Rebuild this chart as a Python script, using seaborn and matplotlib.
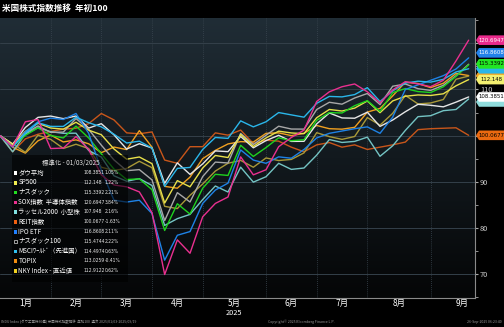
import numpy as np
import pandas as pd
import matplotlib
matplotlib.use("Agg")
import matplotlib.pyplot as plt
import matplotlib.transforms as mtransforms
from matplotlib.colors import LinearSegmentedColormap
import seaborn as sns

# ---------------- data ----------------
dates = pd.date_range("2025-01-03", periods=38, freq="7D")

names = ["ダウ平均", "SP500", "ナスダック", "SOX指数  半導体指数", "ラッセル2000  小型株",
         "REIT指数", "IPO ETF", "ナスダック100", "MSCIﾜｰﾙﾄﾞ（先進国）", "TOPIX", "NKY Index - 直近値"]

dow = [100, 98.14, 101.77, 103.96, 104.24, 103.68, 104.25, 101.63, 102.59, 100.16, 97.09, 98.25, 97.31,
       89.66, 94.10, 91.60, 93.87, 96.69, 96.53, 99.82, 97.36, 98.92, 100.07, 98.75, 98.77, 102.54, 104.91,
       103.84, 103.77, 105.08, 102.00, 103.38, 105.18, 106.79, 106.58, 106.24, 107.26, 108.3851]
sp500 = [100, 98.06, 100.91, 102.67, 101.65, 101.41, 102.90, 101.19, 100.20, 97.10, 94.89, 95.37, 93.92,
         85.39, 90.25, 88.90, 92.98, 95.70, 95.25, 100.27, 97.65, 99.48, 100.97, 100.58, 100.43, 103.88, 105.67,
         105.34, 105.96, 107.51, 104.97, 107.52, 108.54, 108.82, 108.71, 109.07, 110.80, 112.148]
nasdaq = [100, 97.66, 100.04, 101.69, 100.03, 99.50, 102.06, 99.50, 96.05, 92.74, 90.48, 90.63, 88.28,
          79.44, 85.23, 83.00, 88.59, 91.62, 91.37, 97.91, 95.49, 97.41, 99.53, 98.90, 99.11, 103.32, 104.99,
          104.91, 106.49, 107.58, 105.24, 109.32, 110.20, 109.55, 109.35, 110.59, 112.84, 115.3392]
sox = [100, 97.6, 103.0, 103.5, 97.2, 97.3, 99.8, 97.0, 91.5, 89.3, 88.9, 87.8, 83.3,
       69.9, 77.4, 74.5, 82.4, 85.3, 86.7, 95.4, 91.5, 92.6, 97.6, 99.6, 101.2, 107.4, 109.5,
       110.6, 111.2, 109.5, 107.1, 109.9, 111.7, 111.2, 110.6, 112.0, 116.2, 120.6947]
russell = [100, 96.50, 100.33, 101.73, 100.85, 100.50, 100.53, 96.78, 95.35, 91.29, 90.11, 90.68, 89.19,
           80.54, 82.00, 82.92, 86.13, 89.08, 87.78, 93.16, 89.92, 91.09, 94.00, 92.68, 92.98, 95.77, 99.15,
           98.52, 98.75, 99.67, 95.52, 97.79, 101.13, 104.11, 104.32, 105.41, 105.67, 107.948]
reit = [100, 96.5, 99.3, 100.3, 100.9, 101.4, 101.6, 102.6, 104.8, 103.4, 100.6, 100.4, 100.8,
        94.7, 94.0, 97.6, 97.6, 100.6, 100.1, 101.2, 98.3, 99.0, 98.8, 97.5, 96.5, 98.0, 98.5,
        97.5, 98.0, 97.0, 97.5, 98.0, 98.6, 101.3, 101.5, 101.6, 101.7, 100.0677]
ipo = [100, 97.5, 100.8, 103.0, 103.8, 103.5, 104.8, 100.5, 92.5, 86.0, 85.6, 86.0, 83.1,
       73.0, 78.4, 79.2, 85.3, 88.2, 89.7, 96.9, 94.7, 94.0, 95.4, 95.1, 97.0, 99.5, 100.5,
       101.0, 101.5, 101.9, 100.5, 104.0, 110.0, 111.0, 112.0, 113.0, 114.45, 116.8608]
ndx = [100, 97.76, 100.54, 102.10, 100.71, 100.77, 103.70, 101.35, 97.93, 94.73, 92.40, 92.63, 90.41,
       81.58, 87.64, 85.61, 91.12, 94.26, 94.07, 100.48, 98.07, 100.07, 102.04, 101.43, 101.41, 105.66, 107.23,
       106.82, 108.16, 109.13, 106.74, 110.71, 111.19, 110.18, 109.80, 110.91, 112.97, 115.4744]
msci = [100, 97.6, 100.5, 102.8, 102.0, 102.0, 104.0, 102.8, 101.9, 100.3, 98.4, 98.8, 97.3,
        89.0, 92.9, 93.1, 97.0, 99.6, 99.4, 103.2, 101.9, 103.0, 105.0, 104.5, 104.0, 107.0, 108.5,
        108.4, 108.9, 110.4, 107.4, 109.7, 111.4, 111.8, 111.6, 112.2, 113.8, 114.4974]
topix = [100, 97.48, 96.21, 98.88, 100.13, 98.63, 99.08, 98.23, 96.31, 97.52, 96.98, 101.08, 97.5,
         89.0, 88.6, 91.0, 95.0, 96.8, 98.2, 98.7, 98.6, 100.5, 100.6, 100.0, 100.5, 102.2, 101.5,
         101.4, 101.8, 105.1, 105.9, 108.6, 111.6, 111.3, 110.4, 111.35, 113.48, 113.0259]
nky = [100, 98.24, 96.38, 100.09, 99.19, 97.22, 98.13, 97.20, 93.14, 92.46, 92.88, 94.44, 93.05,
       84.67, 84.18, 87.06, 89.50, 92.32, 94.01, 94.63, 93.15, 95.16, 94.60, 94.84, 96.26, 100.64, 99.79,
       99.19, 99.81, 103.92, 102.27, 104.83, 108.73, 106.87, 107.08, 107.83, 112.22, 112.9122]

pct_change = [1.05, 1.22, 2.21, 3.84, 2.16, -1.63, 2.11, 2.22, 0.63, -0.41, 0.62]
month_labels = ["1月", "2月", "3月", "4月", "5月", "6月", "7月", "8月", "9月"]
ytick_values = [70, 80, 90, 100, 110, 120]
ytick_labels = ["70", "80", "90", "", "110", ""]

series = [dow, sp500, nasdaq, sox, russell, reit, ipo, ndx, msci, topix, nky]

# ---------------- styles ----------------
line_colors = ["#e6e6e6", "#e8e04a", "#1ed21e", "#ea3090", "#74c4c4", "#c8561a",
               "#1e82e6", "#a8a8a8", "#2ab6ea", "#f0a020", "#a89838"]
marker_colors = ["#ffffff", "#f0ec50", "#22dd22", "#ea3090", "#80e0e0", "#f06010",
                 "#2080ff", "none", "#30c0f0", "#f08c10", "#f0d020"]
tag_bg = ["#ffffff", "#f4f070", "#22e622", "#ea2a8c", "#90dcdc", "#ec6a10",
          "#2282ea", "#b0b0b0", "#2ab6ea", "#f0a020", "#e8d040"]
tag_fg = ["black", "black", "black", "white", "black", "black",
          "white", "black", "black", "black", "black"]
tag_dy_px = [0, 0, 1, 0, -3, 0, 5, 0, 0, 0, 0]
tag_text = [True, True, True, True, False, True, True, False, False, False, False]
tag_order = [10, 9, 7, 8, 4, 5, 0, 1, 2, 6, 3]
draw_order = [5, 9, 10, 4, 0, 7, 1, 2, 6, 8, 3]

sns.set_style("dark")
plt.rcParams["font.family"] = ["Noto Sans CJK JP", "DejaVu Sans"]
NUMFONT = dict(family=["DejaVu Sans"], fontstretch="condensed")

df = pd.concat([pd.DataFrame({"date": dates, "value": s, "series": names[i]})
                for i, s in enumerate(series)], ignore_index=True)
palette = {names[i]: line_colors[i] for i in range(len(names))}

W, H = 504, 327
fig = plt.figure(figsize=(W / 100, H / 100), dpi=100, facecolor="black")
ax = fig.add_axes([0, 1 - 298 / H, 475 / W, 280 / H])
ax.set_facecolor("black")

cmap = LinearSegmentedColormap.from_list("bg", ["#202d36", "#12191e", "#050607"])
ax.imshow(np.linspace(0, 1, 256).reshape(-1, 1), cmap=cmap, aspect="auto",
          extent=[0, 1, 0, 1], transform=ax.transAxes, zorder=0)

sns.lineplot(data=df, x="date", y="value", hue="series",
             hue_order=[names[i] for i in draw_order], palette=palette,
             linewidth=1.0, legend=False, ax=ax, zorder=3)

x0 = dates[0]
ax.set_xlim(x0, x0 + pd.Timedelta(days=37.5 * 7))
ax.set_ylim(64.8, 125.5)
ax.set_xlabel("")
ax.set_ylabel("")

dser = pd.Series(dates)
bounds = [dser[dser.dt.month == m].iloc[-1] for m in range(1, 9)]
edges = [x0] + bounds + [dates[-1] + pd.Timedelta(days=14)]
centers = [edges[i] + (edges[i + 1] - edges[i]) / 2 for i in range(9)]

ax.set_xticks(bounds)
ax.set_xticklabels([])
ax.set_xticks(centers, minor=True)
ax.set_xticklabels(month_labels, minor=True)
ax.tick_params(axis="x", which="major", length=2, color="#888888", direction="out")
ax.tick_params(axis="x", which="minor", length=0, labelsize=6, labelcolor="white", pad=1)
for b in bounds:
    ax.axvline(b, color="#3a4650", lw=0.6, ls=(0, (1, 1.5)), zorder=1)

ax.text(centers[4], -(313 - 298) / 280, "2025",
        transform=mtransforms.blended_transform_factory(ax.transData, ax.transAxes),
        ha="center", va="center", color="white", fontsize=5.3)

ax.yaxis.tick_right()
ax.set_yticks(ytick_values)
ax.set_yticklabels(ytick_labels)
ax.set_yticks([65, 75, 85, 95, 105, 115, 125], minor=True)
ax.tick_params(axis="y", which="both", length=2, color="#aaaaaa", labelsize=5.3,
               labelcolor="#d0d0d0", pad=1.5)
for v in ytick_values:
    ax.axhline(v, color="#34404a", lw=0.7, zorder=1)
ax.grid(False)
for s in ["left", "top"]:
    ax.spines[s].set_visible(False)
for s in ["right", "bottom"]:
    ax.spines[s].set_color("#8a8a8a")
    ax.spines[s].set_linewidth(0.8)

# right-side value tags (pointed boxes)
def fmt(v):
    return f"{v:.4f}".rstrip("0").rstrip(".")

for z, i in enumerate(tag_order):
    yc = ax.transData.transform((0, series[i][-1]))[1] + tag_dy_px[i]
    half = 4.8
    pts = [(479, yc + half), (504, yc + half), (504, yc - half), (479, yc - half), (476, yc)]
    poly = plt.Polygon([(px / W, py / H) for px, py in pts], closed=True, transform=fig.transFigure,
                       fc=tag_bg[i], ec="none", zorder=10 + 2 * z)
    fig.patches.append(poly)
    if tag_text[i]:
        fig.text(491.5 / W, yc / H, fmt(series[i][-1]), ha="center", va="center",
                 fontsize=4.3, color=tag_fg[i], zorder=11 + 2 * z, **NUMFONT)

# legend box
fig.patches.append(plt.Rectangle((12 / W, 1 - 282 / H), 116 / W, 127 / H, transform=fig.transFigure,
                                 fc="black", ec="none", alpha=0.6, zorder=5))
fig.text(42 / W, 1 - 163.5 / H, "標準化 - 01/03/2025", color="#e0e0e0", fontsize=4.6,
         ha="left", va="center", zorder=6)
for i in range(len(names)):
    y = 1 - (172.7 + i * 9.8) / H
    if marker_colors[i] == "none":
        fig.patches.append(plt.Rectangle((13.5 / W, y - 2 / H), 3.2 / W, 3.6 / H, transform=fig.transFigure,
                                         fc="none", ec="#dddddd", lw=0.5, zorder=6))
    else:
        fig.patches.append(plt.Rectangle((13.5 / W, y - 2 / H), 3.2 / W, 3.6 / H, transform=fig.transFigure,
                                         fc=marker_colors[i], ec="none", zorder=6))
    fig.text(18.5 / W, y, names[i], color="white", fontsize=4.6, ha="left", va="center", zorder=6)
    fig.text(84 / W, y, fmt(series[i][-1]), color="#e8e8e8", fontsize=3.6, ha="left", va="center",
             zorder=6, **NUMFONT)
    fig.text(104.5 / W, y, f"{pct_change[i]:.2f}%", color="#e8e8e8", fontsize=3.6, ha="left", va="center",
             zorder=6, **NUMFONT)

# title & footer
fig.text(2 / W, 1 - 8.5 / H, "米国株式指数推移  年初100", color="white", fontsize=6.2,
         fontweight="bold", ha="left", va="center")
fig.text(1 / W, 1 - 322 / H, "INDU Index (ダウ工業株30種) 米国株式指数推移  年初100  週次 2025/01/03-2025/09/19",
         color="#9a9a9a", fontsize=2.5, ha="left", va="center")
fig.text(301 / W, 1 - 322 / H, "Copyright© 2025 Bloomberg Finance L.P.", color="#9a9a9a",
         fontsize=2.5, ha="center", va="center")
fig.text(502 / W, 1 - 322 / H, "26-Sep-2025 06:23:40", color="#9a9a9a", fontsize=2.5,
         ha="right", va="center")

fig.savefig("out.png", dpi=100, facecolor="black")
